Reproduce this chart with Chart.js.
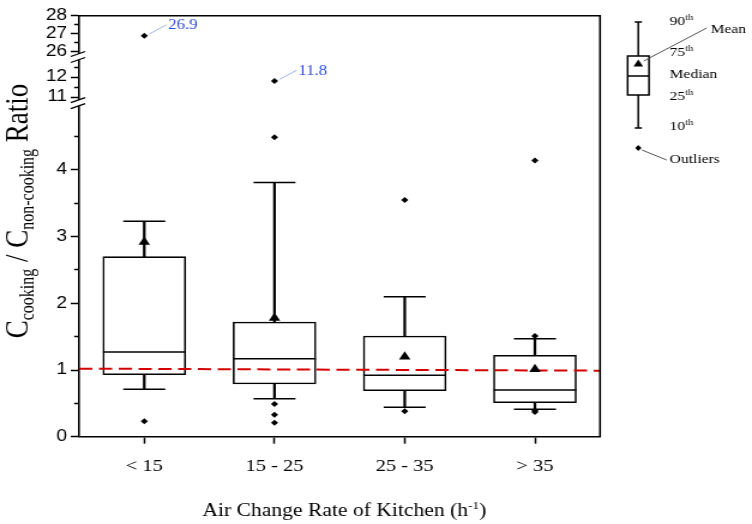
<!DOCTYPE html>
<html>
<head>
<meta charset="utf-8">
<script src="https://cdn.jsdelivr.net/npm/chart.js@4.4.1/dist/chart.umd.min.js"></script>
<style>
  html, body { margin: 0; padding: 0; background: #fff; overflow: hidden; }
  /* the reference is a horizontally stretched raster, so the chart is drawn narrow and stretched */
  #wrap { width: 627px; height: 524px; transform: scale(1.19936, 1); transform-origin: 0 0; }
</style>
</head>
<body>
<div id="wrap"><canvas id="chart"></canvas></div>
<script>
// box plot data, one value per category
const categories = ['< 15', '15 - 25', '25 - 35', '> 35'];
const p10    = [0.71, 0.57, 0.44, 0.41];
const q1     = [0.93, 0.79, 0.69, 0.51];
const median = [1.27, 1.17, 0.92, 0.70];
const q3     = [2.70, 1.72, 1.51, 1.22];
const p90    = [3.23, 3.81, 2.10, 1.47];
const mean   = [2.92, 1.78, 1.20, 1.01];
const outliers = [
    [0.23, 26.9],
    [4.49, 0.49, 0.33, 0.21, 11.8],
    [3.55, 0.38],
    [4.14, 1.51, 0.39, 0.37]
];
const refLine = [1.02, 0.99];

// broken y axis: three segments
const lowTicks = [0, 1, 2, 3, 4];
const lowMinor = [0.5, 1.5, 2.5, 3.5, 4.5];
const midTicks = [11, 12];
const midMinor = [11.5, 12.5];
const topTicks = [26, 27, 28];
const topMinor = [26.5, 27.5];

const SERIF = '"Liberation Serif", "Times New Roman", serif';
const SANS = '"Liberation Sans", Arial, sans-serif';

const pts = arr => arr.map((v, i) => ({ x: categories[i], y: v }));

function bandOf(v) {
    if (v > 20) return 'yTop';
    if (v > 8) return 'yMid';
    return 'y';
}
const outPts = { y: [], yMid: [], yTop: [] };
outliers.forEach((vals, i) => vals.forEach(v => outPts[bandOf(v)].push({ x: categories[i], y: v })));

function yAxis(min, max, major, minor, weight) {
    return {
        type: 'linear', axis: 'y', position: 'left',
        stack: 'ratio', stackWeight: weight,
        min, max,
        afterBuildTicks: s => {
            s.ticks = major.concat(minor).sort((a, b) => a - b).map(v => ({ value: v }));
        },
        afterFit: s => { s.width = 66; },
        grid: {
            drawOnChartArea: false, tickLength: 7, tickColor: '#000', tickWidth: 1.5,
            tickBorderDash: c => (c.tick && minor.includes(c.tick.value)) ? [0, 2.8, 4.2, 20] : []
        },
        border: { color: '#000', width: 1.6 },
        ticks: {
            autoSkip: false, padding: 3, color: '#000',
            font: { family: SANS, size: 16 },
            callback: v => major.includes(v) ? String(v) : ''
        }
    };
}

const markers = {
    type: 'line', showLine: false, clip: false,
    xAxisID: 'x', yAxisID: 'y',
    pointBorderColor: '#000', pointBackgroundColor: '#000'
};

const boxPlotExtras = {
    id: 'boxPlotExtras',
    afterDraw(chart) {
        const ctx = chart.ctx;
        const a = chart.chartArea;
        ctx.save();

        // frame top and right
        ctx.strokeStyle = '#000';
        ctx.lineWidth = 1.6;
        ctx.beginPath();
        ctx.moveTo(a.left, a.top);
        ctx.lineTo(a.right, a.top);
        ctx.lineTo(a.right, a.bottom);
        ctx.stroke();

        // axis break marks
        [chart.scales.yTop.bottom, chart.scales.yMid.bottom].forEach(b => {
            const L = a.left;
            ctx.fillStyle = '#fff';
            ctx.beginPath();
            ctx.moveTo(L - 7, b - 0.5);
            ctx.lineTo(L + 5, b - 5.5);
            ctx.lineTo(L + 5, b + 0.5);
            ctx.lineTo(L - 7, b + 5.5);
            ctx.closePath();
            ctx.fill();
            ctx.strokeStyle = '#000';
            ctx.lineWidth = 1.3;
            ctx.beginPath();
            ctx.moveTo(L - 7, b - 0.5); ctx.lineTo(L + 5, b - 5.5);
            ctx.moveTo(L - 7, b + 5.5); ctx.lineTo(L + 5, b + 0.5);
            ctx.stroke();
        });

        // value labels on the far outliers
        chart.data.datasets.forEach((ds, di) => {
            if (ds.label !== 'far outliers') return;
            chart.getDatasetMeta(di).data.forEach((pt, i) => {
                ctx.strokeStyle = '#9db6ea';
                ctx.lineWidth = 1;
                ctx.beginPath();
                ctx.moveTo(pt.x + 4, pt.y - 1.5);
                ctx.lineTo(pt.x + 18.5, pt.y - 10.8);
                ctx.stroke();
                ctx.fillStyle = '#2a4bd7';
                ctx.font = `14px ${SERIF}`;
                ctx.textAlign = 'left';
                ctx.textBaseline = 'middle';
                ctx.fillText(ds.data[i].y.toFixed(1), pt.x + 20, pt.y - 10);
            });
        });

        // y title with subscripts
        ctx.fillStyle = '#000';
        ctx.textAlign = 'left';
        ctx.textBaseline = 'alphabetic';
        const parts = [
            { t: 'C', sub: false }, { t: 'cooking', sub: true },
            { t: ' / C', sub: false }, { t: 'non-cooking', sub: true },
            { t: ' Ratio', sub: false }
        ];
        const fontOf = p => p.sub ? `16px ${SERIF}` : `27px ${SERIF}`;
        let total = 0;
        parts.forEach(p => { ctx.font = fontOf(p); p.w = ctx.measureText(p.t).width; total += p.w; });
        ctx.save();
        ctx.translate(23.3, 211);
        ctx.rotate(-Math.PI / 2);
        let px = -total / 2;
        parts.forEach(p => {
            ctx.font = fontOf(p);
            ctx.fillText(p.t, px, p.sub ? 5 : 0);
            px += p.w;
        });
        ctx.restore();

        // x title with superscript
        const xt = [
            { t: 'Air Change Rate of Kitchen (h', sup: false },
            { t: '-1', sup: true },
            { t: ')', sup: false }
        ];
        const xFont = p => p.sup ? `11px ${SERIF}` : `18px ${SERIF}`;
        let xw = 0;
        xt.forEach(p => { ctx.font = xFont(p); p.w = ctx.measureText(p.t).width; xw += p.w; });
        let tx = (a.left + a.right) / 2 + 4 - xw / 2;
        xt.forEach(p => {
            ctx.font = xFont(p);
            ctx.fillText(p.t, tx, p.sup ? 509 : 516);
            tx += p.w;
        });

        // box plot key at the right
        const kx = 532.2, half = 8.9, cap = 3;
        ctx.strokeStyle = '#000';
        ctx.lineWidth = 1.5;
        ctx.beginPath();
        ctx.moveTo(kx, 22); ctx.lineTo(kx, 128);
        ctx.moveTo(kx - cap, 22); ctx.lineTo(kx + cap, 22);
        ctx.moveTo(kx - cap, 128); ctx.lineTo(kx + cap, 128);
        ctx.stroke();
        ctx.fillStyle = '#fff';
        ctx.fillRect(kx - half, 56, half * 2, 39);
        ctx.strokeRect(kx - half, 56, half * 2, 39);
        ctx.beginPath();
        ctx.moveTo(kx - half, 76); ctx.lineTo(kx + half, 76);
        ctx.stroke();
        ctx.fillStyle = '#000';
        ctx.beginPath();
        ctx.moveTo(kx, 59.5); ctx.lineTo(kx + 4, 66.5); ctx.lineTo(kx - 4, 66.5);
        ctx.closePath();
        ctx.fill();
        ctx.beginPath();
        ctx.moveTo(kx, 145); ctx.lineTo(kx + 2.6, 148); ctx.lineTo(kx, 151); ctx.lineTo(kx - 2.6, 148);
        ctx.closePath();
        ctx.fill();
        ctx.strokeStyle = '#555';
        ctx.lineWidth = 1;
        ctx.beginPath();
        ctx.moveTo(kx + 4.5, 61); ctx.lineTo(589.2, 28);
        ctx.moveTo(kx + 3, 150); ctx.lineTo(555.8, 160);
        ctx.stroke();

        ctx.fillStyle = '#000';
        ctx.textBaseline = 'middle';
        const tx0 = 558.3;
        const ordinal = (num, y) => {
            ctx.font = `13px ${SERIF}`;
            ctx.fillText(num, tx0, y);
            const w = ctx.measureText(num).width;
            ctx.font = `8.5px ${SERIF}`;
            ctx.fillText('th', tx0 + w, y - 4);
        };
        ordinal('90', 22);
        ordinal('75', 53);
        ordinal('25', 97);
        ordinal('10', 127);
        ctx.font = `13px ${SERIF}`;
        ctx.fillText('Median', tx0, 75);
        ctx.fillText('Outliers', tx0, 160);
        ctx.fillText('Mean', 592.5, 30);

        ctx.restore();
    }
};

new Chart(document.getElementById('chart'), {
    data: {
        labels: categories,
        datasets: [
            {
                type: 'bar', label: 'whisker', order: 6, grouped: false,
                xAxisID: 'x', yAxisID: 'y',
                data: categories.map((c, i) => [p10[i], p90[i]]),
                backgroundColor: '#000', borderWidth: 0, barThickness: 1.6
            },
            {
                type: 'bar', label: 'box', order: 5, grouped: false,
                xAxisID: 'x', yAxisID: 'y',
                data: categories.map((c, i) => [q1[i], q3[i]]),
                backgroundColor: '#fff', borderColor: '#000', borderWidth: 1.6,
                borderSkipped: false, barThickness: 69
            },
            { ...markers, label: 'median', order: 4, data: pts(median),
                pointStyle: 'line', pointRadius: 34.5, pointBorderWidth: 1.5 },
            { ...markers, label: '90th', order: 4, data: pts(p90),
                pointStyle: 'line', pointRadius: 17.5, pointBorderWidth: 1.5 },
            { ...markers, label: '10th', order: 4, data: pts(p10),
                pointStyle: 'line', pointRadius: 17.5, pointBorderWidth: 1.5 },
            {
                type: 'line', label: 'ratio = 1', order: 3,
                xAxisID: 'xr', yAxisID: 'y',
                data: [{ x: 0, y: refLine[0] }, { x: 1, y: refLine[1] }],
                borderColor: '#d40000', borderWidth: 2, borderDash: [11, 5.5], pointRadius: 0
            },
            { ...markers, label: 'mean', order: 2, data: pts(mean),
                pointStyle: 'triangle', pointRadius: 5.5, pointBorderWidth: 0 },
            { ...markers, label: 'outliers', order: 1, data: outPts.y,
                pointStyle: 'rectRot', pointRadius: 3, pointBorderWidth: 0 },
            { ...markers, label: 'far outliers', order: 1, yAxisID: 'yMid', data: outPts.yMid,
                pointStyle: 'rectRot', pointRadius: 3, pointBorderWidth: 0 },
            { ...markers, label: 'far outliers', order: 1, yAxisID: 'yTop', data: outPts.yTop,
                pointStyle: 'rectRot', pointRadius: 3, pointBorderWidth: 0 }
        ]
    },
    options: {
        responsive: true,
        maintainAspectRatio: false,
        animation: false,
        events: [],
        // the wide median markers would otherwise push the plot down
        layout: { autoPadding: false, padding: { left: 0, right: 126.7, top: 15.7, bottom: 0 } },
        scales: {
            x: {
                type: 'category', axis: 'x', position: 'bottom', offset: true,
                afterFit: s => { s.height = 87.3; },
                grid: { drawOnChartArea: false, offset: false, tickLength: 7, tickColor: '#000', tickWidth: 1.5 },
                border: { color: '#000', width: 1.6 },
                ticks: { autoSkip: false, maxRotation: 0, padding: 13, color: '#000',
                    font: { family: SERIF, size: 17 } }
            },
            xr: { type: 'linear', axis: 'x', position: 'bottom', min: 0, max: 1, display: false },
            // stacked axes are laid out bottom-up in the order given
            y: yAxis(0, 5, lowTicks, lowMinor, 333.5),
            yMid: yAxis(10.69, 13.0, midTicks, midMinor, 46.2),
            yTop: yAxis(25.72, 28, topTicks, topMinor, 41.3)
        },
        plugins: {
            legend: { display: false },
            tooltip: { enabled: false }
        }
    },
    plugins: [boxPlotExtras]
});
</script>
</body>
</html>
